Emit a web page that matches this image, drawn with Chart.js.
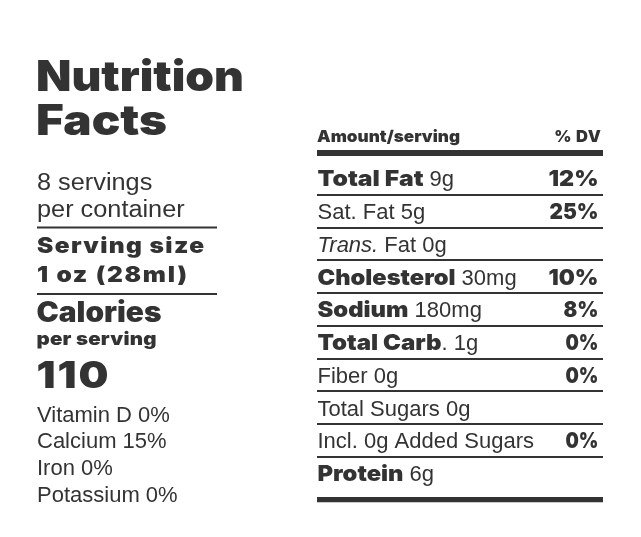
<!DOCTYPE html>
<html>
<head>
<meta charset="utf-8">
<script src="https://cdn.jsdelivr.net/npm/chart.js@4.4.1/dist/chart.umd.min.js"></script>
<style>
  html, body { margin: 0; padding: 0; background: #fff; }
  #wrap { width: 641px; height: 537px; position: relative; }
</style>
</head>
<body>
<div id="wrap"><canvas id="label"></canvas></div>
<script>
// datos de la etiqueta
var servings = 8;
var servingSize = '1 oz (28ml)';
var calories = 110;

var nutrients = ['Total Fat', 'Sat. Fat', 'Trans. Fat', 'Cholesterol', 'Sodium', 'Total Carb.', 'Fiber', 'Total Sugars', 'Added Sugars', 'Protein'];
var amounts = ['9g', '5g', '0g', '30mg', '180mg', '1g', '0g', '0g', '0g', '6g'];
var dailyValue = [12, 25, null, 10, 8, 0, 0, null, 0, null];
var boldRows = [true, false, false, true, true, true, false, false, false, true];

var vitamins = ['Vitamin D', 'Calcium', 'Iron', 'Potassium'];
var vitaminDV = [0, 15, 0, 0];

var INK = '#333';
var HEAVY = 'Inter, Roboto, sans-serif';
var PLAIN = '"Liberation Sans", Arial, sans-serif';

// ancho aproximado que ocupa cada texto grueso en la etiqueta original
var heavyWidth = {
    'Nutrition': 208, 'Facts': 131,
    'Serving size': 167, '1 oz (28ml)': 150,
    'Calories': 125, 'per serving': 120, '110': 72,
    'Amount/serving': 143,
    'Total Fat': 106, 'Cholesterol': 138, 'Sodium': 91, 'Total Carb': 124, 'Protein': 86,
    '12%': 50, '25%': 49, '10%': 50, '8%': 35, '0%': 33
};

function txt(c, s, x, y, font, ls, align) {
    c.font = font;
    c.letterSpacing = (ls || 0) + 'px';
    c.textAlign = align || 'left';
    c.fillText(s, x, y);
    var w = c.measureText(s).width;
    c.letterSpacing = '0px';
    return x + w;
}

// texto normal algo ensanchado (las dos lineas de porciones)
function wide(c, s, x, y, size, sx) {
    c.save();
    c.translate(x, y);
    c.scale(sx, 1);
    txt(c, s, 0, 0, '400 ' + size + 'px ' + PLAIN, 0);
    c.restore();
}

// texto grueso: se ensancha un poco la letra y el resto se reparte como espaciado
function heavy(c, s, x, y, size, right) {
    c.font = '900 ' + size + 'px ' + HEAVY;
    c.letterSpacing = '0px';
    c.textAlign = 'left';
    var nat = c.measureText(s).width;
    var target = heavyWidth[s] || nat;
    var sx = Math.max(0.85, Math.min(target / nat, 1.14));
    var ls = s.length > 1 ? (target / sx - nat) / (s.length - 1) : 0;
    if (right) x = x - target;
    c.save();
    c.translate(x, y);
    c.scale(sx, 1);
    c.letterSpacing = ls + 'px';
    c.fillText(s, 0, 0);
    var w = c.measureText(s).width;
    c.restore();
    return x + w * sx;
}

var labelPlugin = {
    id: 'labelText',
    afterDraw: function(chart) {
        var c = chart.ctx;
        var y = chart.scales.y;
        var area = chart.chartArea;
        c.save();
        c.fillStyle = INK;
        c.textBaseline = 'alphabetic';

        // columna izquierda
        heavy(c, 'Nutrition', 36, 91, 42);
        heavy(c, 'Facts', 36, 134.5, 42);
        wide(c, servings + ' servings', 37, 189.5, 23, 1.1);
        wide(c, 'per container', 37, 217, 23, 1.1);
        c.fillRect(37, 226.5, 180, 2);
        heavy(c, 'Serving size', 37, 252.7, 21.5);
        heavy(c, servingSize, 37, 281.7, 21.5);
        c.fillRect(37, 293, 180, 2);
        heavy(c, 'Calories', 36.5, 322.3, 28);
        heavy(c, 'per serving', 36.5, 345, 18);
        heavy(c, String(calories), 36.5, 388.3, 37);
        for (var v = 0; v < vitamins.length; v++) {
            txt(c, vitamins[v] + ' ' + vitaminDV[v] + '%', 37, 421.7 + v * 26.7, '400 22px ' + PLAIN, 0);
        }

        // tabla
        heavy(c, 'Amount/serving', area.left, 142.3, 16.5);
        txt(c, '% DV', area.right - 1.5, 142.3, '900 16.5px ' + HEAVY, 0.6, 'right');

        for (var i = 0; i < nutrients.length; i++) {
            var base = y.getPixelForValue(i + 1) - 8.5;
            var x = area.left + 0.5;
            var name = nutrients[i];
            var reg = '400 22px ' + PLAIN;
            if (name === 'Trans. Fat') {
                x = txt(c, 'Trans.', x, base, 'italic 400 22px ' + PLAIN, 0);
                txt(c, ' Fat ' + amounts[i], x, base, reg, 0);
            } else if (name === 'Added Sugars') {
                txt(c, 'Incl. ' + amounts[i] + ' Added Sugars', x, base, reg, 0);
            } else if (name === 'Total Carb.') {
                x = heavy(c, 'Total Carb', x, base, 22);
                txt(c, '. ' + amounts[i], x, base, reg, 0);
            } else if (boldRows[i]) {
                x = heavy(c, name, x, base, 22);
                txt(c, ' ' + amounts[i], x, base, reg, 0);
            } else {
                txt(c, name + ' ' + amounts[i], x, base, reg, 0);
            }
            if (dailyValue[i] !== null) {
                heavy(c, dailyValue[i] + '%', area.right - 4.5, base, 22, true);
            }
        }
        c.restore();
    }
};

var chart = new Chart(document.getElementById('label').getContext('2d'), {
    type: 'bar',
    data: {
        labels: nutrients,
        datasets: [{
            label: '% DV',
            data: [],
            backgroundColor: 'rgba(0,0,0,0)'
        }]
    },
    options: {
        responsive: true,
        maintainAspectRatio: false,
        animation: false,
        events: [],
        layout: {
            padding: { left: 317, right: 38, top: 153, bottom: 37.5 }
        },
        plugins: {
            legend: { display: false },
            tooltip: { enabled: false },
            title: { display: false }
        },
        scales: {
            x: { display: false },
            y: {
                type: 'linear',
                reverse: true,
                min: -0.28,
                max: 10.3,
                afterBuildTicks: function(axis) {
                    var t = [{ value: axis.min }];
                    for (var k = 1; k < nutrients.length; k++) t.push({ value: k });
                    t.push({ value: axis.max });
                    axis.ticks = t;
                },
                ticks: { display: false },
                border: { display: false },
                grid: {
                    color: INK,
                    drawTicks: false,
                    lineWidth: function(ctx) {
                        if (ctx.index === 0) return 6;
                        if (ctx.index === nutrients.length) return 5.3;
                        return 2;
                    }
                }
            }
        }
    },
    plugins: [labelPlugin]
});
</script>
</body>
</html>
